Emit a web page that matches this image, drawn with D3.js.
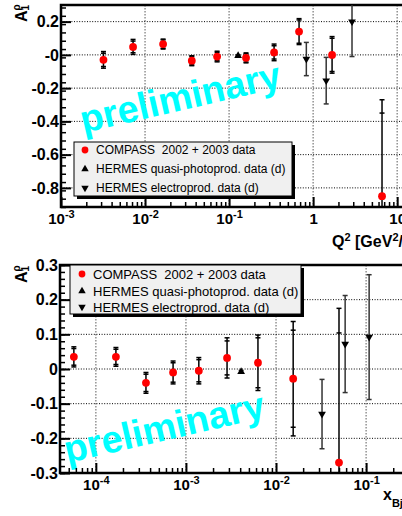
<!DOCTYPE html>
<html>
<head>
<meta charset="utf-8">
<script src="https://cdn.jsdelivr.net/npm/d3@7"></script>
<style>
body { margin: 0; background: #fff; overflow: hidden; }
svg { display: block; }
text { font-family: "Liberation Sans", Arial, Helvetica, sans-serif; }
</style>
</head>
<body>
<svg id="chart" width="402" height="516"></svg>
<script>
// --- top panel : A1 vs Q2 ---
var q2Compass = [0.0032, 0.0072, 0.0164, 0.036, 0.072, 0.159, 0.343, 0.68, 1.68, 6.6];
var a1Q2Compass = [-0.03, 0.048, 0.065, -0.035, -0.01, -0.018, 0.015, 0.14, 0.0, -0.85];
var errTotQ2Compass = [0.05, 0.045, 0.03, 0.03, 0.032, 0.03, 0.05, 0.078, 0.11, 0.58];
var errStatQ2Compass = [0.04, 0.035, 0.025, 0.025, 0.025, 0.025, 0.04, 0.07, 0.1, 0.5];
var q2HermesQp = [0.128];
var a1Q2HermesQp = [-0.005];
var errQ2HermesQp = [0.005];
var q2HermesEl = [0.83, 1.43, 2.9];
var a1Q2HermesEl = [-0.025, -0.155, 0.2];
var errQ2HermesEl = [0.1, 0.14, 0.21];

// --- bottom panel : A1 vs xBj ---
var xCompass = [5.7e-5, 1.67e-4, 3.6e-4, 7.2e-4, 1.39e-3, 2.86e-3, 6.3e-3, 0.0155, 0.050];
var a1XCompass = [0.035, 0.035, -0.04, -0.01, -0.005, 0.032, 0.018, -0.028, -0.27];
var errTotXCompass = [0.029, 0.027, 0.03, 0.033, 0.038, 0.058, 0.08, 0.165, 0.445];
var errStatXCompass = [0.024, 0.022, 0.025, 0.028, 0.032, 0.049, 0.072, 0.14, 0.374];
var xHermesQp = [4.1e-3];
var a1XHermesQp = [-0.008];
var errXHermesQp = [0.004];
var xHermesEl = [0.0324, 0.0585, 0.108];
var a1XHermesEl = [-0.13, 0.072, 0.092];
var errXHermesEl = [0.1, 0.14, 0.18];

var legendLabels = ["COMPASS  2002 + 2003 data", "HERMES quasi-photoprod. data (d)", "HERMES electroprod. data (d)"];

var yTopTicks = [0.2, 0, -0.2, -0.4, -0.6, -0.8];
var yTopTickLabels = ["0.2", "-0", "-0.2", "-0.4", "-0.6", "-0.8"];
var xTopTicks = [1e-3, 1e-2, 1e-1, 1, 10];
var xTopTickLabels = [["10", "-3"], ["10", "-2"], ["10", "-1"], ["1", ""], ["10", ""]];

var yBotTicks = [0.3, 0.2, 0.1, 0, -0.1, -0.2, -0.3];
var yBotTickLabels = ["0.3", "0.2", "0.1", "0", "-0.1", "-0.2", "-0.3"];
var xBotTicks = [1e-4, 1e-3, 1e-2, 1e-1];
var xBotTickLabels = [["10", "-4"], ["10", "-3"], ["10", "-2"], ["10", "-1"]];

var svg = d3.select("#chart");

function zip(xs, ys, e1, e2) {
  return xs.map(function(v, i) {
    return { x: v, y: ys[i], et: e1[i], es: e2 ? e2[i] : null };
  });
}

function drawPanel(p) {
  var x = d3.scaleLog().domain(p.xDomain).range(p.xRange);
  var y = d3.scaleLinear().domain(p.yDomain).range(p.yRange);
  var g = svg.append("g");
  var left = p.xRange[0], right = p.xRange[1], top = p.yRange[1], bottom = p.yRange[0];

  // grid
  g.append("g").selectAll("line").data(p.xTicks.filter(function(d) { return x(d) > left + 2; }))
    .enter().append("line")
    .attr("x1", function(d) { return x(d); }).attr("x2", function(d) { return x(d); })
    .attr("y1", top).attr("y2", bottom)
    .attr("stroke", "#8a8a8a").attr("stroke-width", 1.4).attr("stroke-dasharray", "1.5,1.5");
  g.append("g").selectAll("line").data(p.yTicks.filter(function(d) { return y(d) > top + 2 && y(d) < bottom - 2; }))
    .enter().append("line")
    .attr("x1", left).attr("x2", right)
    .attr("y1", function(d) { return y(d); }).attr("y2", function(d) { return y(d); })
    .attr("stroke", "#000").attr("stroke-width", 1).attr("stroke-dasharray", "1,1.6");

  // preliminary
  g.append("text").attr("x", p.prelim[0]).attr("y", p.prelim[1])
    .attr("transform", "rotate(-13," + p.prelim[0] + "," + p.prelim[1] + ")")
    .attr("text-anchor", "middle").attr("font-size", 38).attr("font-weight", "bold")
    .attr("fill", "#00ffff").text("preliminary");

  // minor ticks
  var yMinor = d3.range(p.yDomain[0] - 0.1, p.yDomain[1] + 0.001, p.yMinorStep)
    .map(function(v) { return Math.round(v * 1000) / 1000; })
    .filter(function(v) { return v >= p.yDomain[0] && v <= p.yDomain[1]; });
  g.append("g").attr("transform", "translate(" + left + ",0)")
    .call(d3.axisLeft(y).tickValues(yMinor).tickSize(-5).tickFormat(""))
    .call(function(a) { a.select(".domain").remove(); a.selectAll("line").attr("stroke-width", 1.5); });

  var xMinor = [];
  for (var k = -6; k <= 2; k++) {
    for (var m = 2; m <= 9; m++) {
      var v = m * Math.pow(10, k);
      if (v > p.xDomain[0] && v < p.xDomain[1]) xMinor.push(v);
    }
  }
  g.append("g").attr("transform", "translate(0," + bottom + ")")
    .call(d3.axisBottom(x).tickValues(xMinor).tickSize(-5).tickFormat(""))
    .call(function(a) { a.select(".domain").remove(); a.selectAll("line").attr("stroke-width", 1.5); });

  // major axes
  g.append("g").attr("transform", "translate(" + left + ",0)")
    .call(d3.axisLeft(y).tickValues(p.yTicks).tickSize(-10).tickPadding(2)
      .tickFormat(function(d, i) { return p.yTickLabels[i]; }))
    .call(function(a) {
      a.select(".domain").remove();
      a.selectAll("line").attr("stroke-width", 2);
      a.selectAll("text").attr("font-size", 16).attr("font-weight", "bold")
        .attr("font-family", "Liberation Sans, Arial, sans-serif").attr("fill", "#000");
    });

  g.append("g").attr("transform", "translate(0," + bottom + ")")
    .call(d3.axisBottom(x).tickValues(p.xTicks).tickSize(-10).tickPadding(6).tickFormat(""))
    .call(function(a) {
      a.select(".domain").remove();
      a.selectAll("line").attr("stroke-width", 2);
      a.selectAll(".tick text").each(function(d, i) {
        var t = d3.select(this).attr("font-size", 15).attr("font-weight", "bold")
          .attr("font-family", "Liberation Sans, Arial, sans-serif").attr("fill", "#000");
        var lab = p.xTickLabels[i];
        t.append("tspan").text(lab[0]);
        if (lab[1]) t.append("tspan").attr("font-size", 11).attr("dy", -6).text(lab[1]);
      });
    });

  // frame
  g.append("rect").attr("x", left).attr("y", top).attr("width", right - left).attr("height", bottom - top)
    .attr("fill", "none").attr("stroke", "#000").attr("stroke-width", 2.5);

  // data
  var clipId = "clip" + p.id;
  svg.append("clipPath").attr("id", clipId).append("rect")
    .attr("x", left).attr("y", top).attr("width", right - left).attr("height", bottom - top);
  var dg = g.append("g").attr("clip-path", "url(#" + clipId + ")");

  function errorBars(data, color) {
    var eg = dg.append("g").attr("stroke", color).attr("stroke-width", 1.5);
    data.forEach(function(d) {
      var cx = x(d.x);
      eg.append("line").attr("x1", cx).attr("x2", cx).attr("y1", y(d.y - d.et)).attr("y2", y(d.y + d.et));
      var caps = [d.y - d.et, d.y + d.et];
      if (d.es) caps.push(d.y - d.es, d.y + d.es);
      caps.forEach(function(c) {
        eg.append("line").attr("x1", cx - 2.5).attr("x2", cx + 2.5).attr("y1", y(c)).attr("y2", y(c));
      });
    });
  }

  var compass = zip(p.cx, p.cy, p.cet, p.ces);
  var hqp = zip(p.qx, p.qy, p.qe);
  var hel = zip(p.ex, p.ey, p.ee);
  errorBars(hel, "#333");
  errorBars(hqp, "#333");
  errorBars(compass, "#000");

  var tri = d3.symbol().type(d3.symbolTriangle).size(26);
  dg.selectAll(".qp").data(hqp).enter().append("path")
    .attr("d", tri).attr("fill", "#000")
    .attr("transform", function(d) { return "translate(" + x(d.x) + "," + y(d.y) + ")"; });
  dg.selectAll(".el").data(hel).enter().append("path")
    .attr("d", tri).attr("fill", "#000")
    .attr("transform", function(d) { return "translate(" + x(d.x) + "," + y(d.y) + ") rotate(180)"; });
  dg.selectAll(".cp").data(compass).enter().append("circle")
    .attr("cx", function(d) { return x(d.x); }).attr("cy", function(d) { return y(d.y); })
    .attr("r", 3.9).attr("fill", "#ff0000");

  // legend
  var L = p.legend;
  var lg = g.append("g");
  lg.append("rect").attr("x", L.x + 3).attr("y", L.y + 3).attr("width", L.w).attr("height", L.h).attr("fill", "#000");
  lg.append("rect").attr("x", L.x).attr("y", L.y).attr("width", L.w).attr("height", L.h)
    .attr("fill", "#f0f0f0").attr("stroke", "#000").attr("stroke-width", 1);
  legendLabels.forEach(function(lab, i) {
    var cy = L.rows[i];
    if (i === 0) lg.append("circle").attr("cx", L.mx).attr("cy", cy).attr("r", 3.4).attr("fill", "#ff0000");
    else lg.append("path").attr("d", d3.symbol().type(d3.symbolTriangle).size(24)).attr("fill", "#000")
      .attr("transform", "translate(" + L.mx + "," + cy + ")" + (i === 2 ? " rotate(180)" : ""));
    lg.append("text").attr("x", L.tx).attr("y", cy).attr("dy", "0.35em")
      .attr("font-size", L.fs).attr("fill", "#000").attr("xml:space", "preserve").text(lab);
  });

  // y title
  var yt = g.append("g").attr("transform", "translate(27," + p.yTitleY + ") rotate(-90)");
  yt.append("text").attr("x", 0).attr("y", 0).attr("font-size", 16).attr("font-weight", "bold").text("A");
  yt.append("text").attr("x", 11.5).attr("y", 2).attr("font-size", 10).attr("font-weight", "bold").text("1");
  yt.append("text").attr("x", 11.5).attr("y", -7).attr("font-size", 10).attr("font-weight", "bold").text("\u03c1");

  // x title : [text, dy, font size]
  var xt = g.append("text").attr("x", p.xTitle[0]).attr("y", p.xTitle[1])
    .attr("font-size", 16).attr("font-weight", "bold").attr("fill", "#000");
  p.xTitleParts.forEach(function(part) {
    xt.append("tspan").attr("dy", part[1]).attr("font-size", part[2]).text(part[0]);
  });
}

drawPanel({
  id: "top",
  xDomain: [1e-3, 15.85], xRange: [61, 414],
  yDomain: [-0.915, 0.3], yRange: [207, 5],
  yTicks: yTopTicks, yTickLabels: yTopTickLabels, yMinorStep: 0.05,
  xTicks: xTopTicks, xTickLabels: xTopTickLabels,
  cx: q2Compass, cy: a1Q2Compass, cet: errTotQ2Compass, ces: errStatQ2Compass,
  qx: q2HermesQp, qy: a1Q2HermesQp, qe: errQ2HermesQp,
  ex: q2HermesEl, ey: a1Q2HermesEl, ee: errQ2HermesEl,
  prelim: [183, 110],
  legend: { x: 74, y: 142, w: 218, h: 54, mx: 85, tx: 96, fs: 12, rows: [150, 169, 188] },
  yTitleY: 22,
  xTitle: [332, 247],
  xTitleParts: [["Q", 0, 16], ["2", -6, 11], [" [GeV", 6, 16], ["2", -6, 11], ["/c", 6, 16], ["2", -6, 11], ["]", 6, 16]]
});

drawPanel({
  id: "bot",
  xDomain: [4e-5, 0.34], xRange: [60, 414],
  yDomain: [-0.3, 0.3], yRange: [473, 265],
  yTicks: yBotTicks, yTickLabels: yBotTickLabels, yMinorStep: 0.02,
  xTicks: xBotTicks, xTickLabels: xBotTickLabels,
  cx: xCompass, cy: a1XCompass, cet: errTotXCompass, ces: errStatXCompass,
  qx: xHermesQp, qy: a1XHermesQp, qe: errXHermesQp,
  ex: xHermesEl, ey: a1XHermesEl, ee: errXHermesEl,
  prelim: [167, 440],
  legend: { x: 70, y: 265, w: 231, h: 49, mx: 82, tx: 93, fs: 13, rows: [274, 291, 307] },
  yTitleY: 283,
  xTitle: [383, 500],
  xTitleParts: [["x", 0, 16], ["Bj", 7, 11]]
});
</script>
</body>
</html>
